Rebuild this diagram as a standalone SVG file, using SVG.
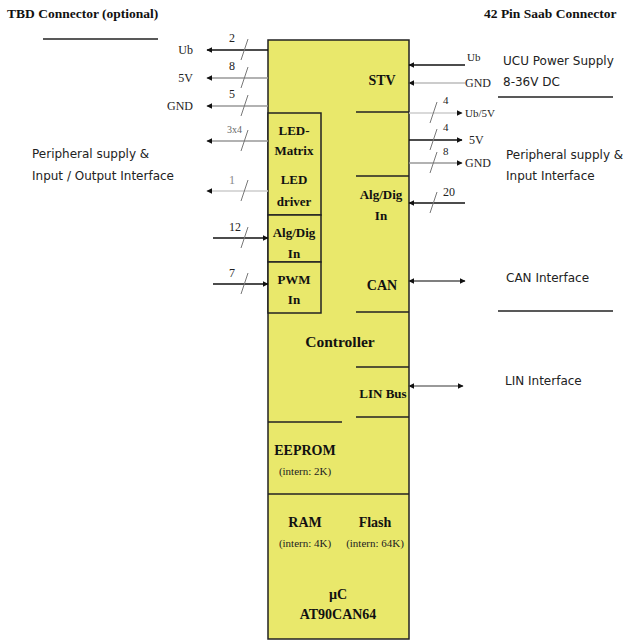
<svg xmlns="http://www.w3.org/2000/svg" width="629" height="642" viewBox="0 0 629 642">
<defs>
<marker id="ah" viewBox="0 0 10 10" refX="9" refY="5" markerWidth="6" markerHeight="6" orient="auto-start-reverse" markerUnits="userSpaceOnUse">
<path d="M0,0 L10,5 L0,10 z" fill="#111"/>
</marker>
<style>
.bx{fill:#e9e86b;stroke:#222;stroke-width:1.5}
.div{stroke:#222;stroke-width:1.5;fill:none}
.b{font-family:"Liberation Serif",serif;font-weight:bold;font-size:14px;fill:#111;text-anchor:middle}
.bs{font-family:"Liberation Serif",serif;font-weight:bold;font-size:13px;fill:#111;text-anchor:middle}
.sm{font-family:"Liberation Serif",serif;font-size:11px;fill:#222;text-anchor:middle}
.pl{font-family:"Liberation Serif",serif;font-size:12px;fill:#222}
.pr{font-family:"Liberation Serif",serif;font-size:12px;fill:#222;text-anchor:end}
.num{font-family:"Liberation Serif",serif;font-size:12px;fill:#222}
.sans{font-family:"DejaVu Sans","Liberation Sans",sans-serif;font-size:12px;fill:#222}
.hd{font-family:"Liberation Serif",serif;font-weight:bold;font-size:13.5px;fill:#111}
.sl{stroke:#777;stroke-width:1;fill:none}
.ul{stroke:#222;stroke-width:1.3}
</style>
</defs>
<rect width="629" height="642" fill="#fff"/>

<g id="headers">
<text class="hd" x="7" y="18">TBD Connector (optional)</text>
<line class="ul" x1="43" y1="39" x2="158" y2="39"/>
<text class="hd" x="484" y="18">42 Pin Saab Connector</text>
<text class="sans" x="32" y="158">Peripheral supply &amp;</text>
<text class="sans" x="32" y="180">Input / Output Interface</text>
<text class="sans" x="503" y="65">UCU Power Supply</text>
<text class="sans" x="503" y="86">8-36V DC</text>
<line class="ul" x1="498" y1="97" x2="613" y2="97"/>
<text class="sans" x="506" y="159">Peripheral supply &amp;</text>
<text class="sans" x="506" y="180">Input Interface</text>
<text class="sans" x="506" y="282">CAN Interface</text>
<line class="ul" x1="498" y1="311" x2="613" y2="311"/>
<text class="sans" x="505" y="385">LIN Interface</text>
</g>

<g id="controller">
<rect class="bx" x="268" y="40" width="141" height="599"/>
<line class="div" x1="356" y1="112" x2="409" y2="112"/>
<line class="div" x1="356" y1="176" x2="409" y2="176"/>
<line class="div" x1="356" y1="312" x2="409" y2="312"/>
<line class="div" x1="356" y1="367" x2="409" y2="367"/>
<line class="div" x1="356" y1="417" x2="409" y2="417"/>
<line class="div" x1="268" y1="422" x2="342" y2="422"/>
<line class="div" x1="268" y1="494" x2="409" y2="494"/>
<text class="b" x="382" y="85">STV</text>
<text class="bs" x="381" y="199">Alg/Dig</text>
<text class="bs" x="381" y="220">In</text>
<text class="b" x="382" y="290">CAN</text>
<text class="b" x="340" y="347" style="font-size:15.5px">Controller</text>
<text class="bs" x="383" y="398">LIN Bus</text>
<text class="b" x="305" y="455">EEPROM</text>
<text class="sm" x="305" y="475">(intern: 2K)</text>
<text class="b" x="305" y="527">RAM</text>
<text class="sm" x="305" y="547">(intern: 4K)</text>
<text class="b" x="375" y="527">Flash</text>
<text class="sm" x="375" y="547">(intern: 64K)</text>
<text class="b" x="338" y="599">µC</text>
<text class="b" x="338" y="619">AT90CAN64</text>
</g>

<g id="led">
<rect class="bx" x="268" y="113" width="53" height="102"/>
<text class="bs" x="294" y="135">LED-</text>
<text class="bs" x="294" y="155">Matrix</text>
<text class="bs" x="294" y="184">LED</text>
<text class="bs" x="294" y="206">driver</text>
</g>
<g id="algdig-left">
<rect class="bx" x="268" y="215" width="53" height="47"/>
<text class="bs" x="294" y="237">Alg/Dig</text>
<text class="bs" x="294" y="258">In</text>
</g>
<g id="pwm">
<rect class="bx" x="268" y="262" width="53" height="51"/>
<text class="bs" x="294" y="284">PWM</text>
<text class="bs" x="294" y="304">In</text>
</g>

<g id="connectors">
<line x1="268" y1="50" x2="207" y2="50" stroke="#111" stroke-width="1.5" marker-end="url(#ah)"/>
<line class="sl" x1="241" y1="60" x2="248" y2="39"/>
<text class="num" x="229" y="42">2</text>
<text class="pr" x="193" y="54">Ub</text>

<line x1="268" y1="78" x2="207" y2="78" stroke="#999" stroke-width="1.5" marker-end="url(#ah)"/>
<line class="sl" x1="241" y1="88" x2="248" y2="67"/>
<text class="num" x="229" y="70">8</text>
<text class="pr" x="193" y="82">5V</text>

<line x1="268" y1="106" x2="207" y2="106" stroke="#999" stroke-width="1.5" marker-end="url(#ah)"/>
<line class="sl" x1="241" y1="116" x2="248" y2="95"/>
<text class="num" x="229" y="98">5</text>
<text class="pr" x="193" y="110">GND</text>

<line x1="268" y1="141" x2="207" y2="141" stroke="#999" stroke-width="1.5" marker-end="url(#ah)"/>
<line class="sl" x1="241" y1="151" x2="248" y2="130"/>
<text class="num" x="227" y="133" style="font-size:10px;fill:#666">3x4</text>

<line x1="268" y1="191" x2="207" y2="191" stroke="#ccc" stroke-width="1.5" marker-end="url(#ah)"/>
<line class="sl" x1="241" y1="201" x2="248" y2="180"/>
<text class="num" x="229" y="184" style="fill:#888">1</text>

<line x1="213" y1="238" x2="268" y2="238" stroke="#111" stroke-width="1.5" marker-end="url(#ah)"/>
<line class="sl" x1="241" y1="248" x2="248" y2="227"/>
<text class="num" x="229" y="231">12</text>

<line x1="213" y1="284" x2="268" y2="284" stroke="#111" stroke-width="1.5" marker-end="url(#ah)"/>
<line class="sl" x1="241" y1="294" x2="248" y2="273"/>
<text class="num" x="229" y="277">7</text>

<line x1="465" y1="65" x2="409" y2="65" stroke="#111" stroke-width="1.5" marker-end="url(#ah)"/>
<text class="pl" x="467" y="61" style="font-size:11px">Ub</text>
<line x1="465" y1="83" x2="409" y2="83" stroke="#999" stroke-width="1" marker-end="url(#ah)"/>
<text class="pl" x="465" y="87">GND</text>

<line x1="409" y1="113" x2="462" y2="113" stroke="#ccc" stroke-width="1.5" marker-end="url(#ah)"/>
<line class="sl" x1="430" y1="123" x2="437" y2="102"/>
<text class="num" x="443" y="104" style="font-size:11px">4</text>
<text class="pl" x="465" y="117" style="font-size:11px">Ub/5V</text>

<line x1="409" y1="140" x2="462" y2="140" stroke="#111" stroke-width="1.5" marker-end="url(#ah)"/>
<line class="sl" x1="430" y1="150" x2="437" y2="129"/>
<text class="num" x="443" y="131" style="font-size:11px">4</text>
<text class="pl" x="469" y="144">5V</text>

<line x1="409" y1="163" x2="462" y2="163" stroke="#999" stroke-width="1.5" marker-end="url(#ah)"/>
<line class="sl" x1="430" y1="173" x2="437" y2="152"/>
<text class="num" x="443" y="155" style="font-size:11px">8</text>
<text class="pl" x="465" y="167">GND</text>

<line x1="465" y1="203" x2="409" y2="203" stroke="#111" stroke-width="1.5" marker-end="url(#ah)"/>
<line class="sl" x1="430" y1="213" x2="437" y2="192"/>
<text class="num" x="443" y="196">20</text>

<line x1="409" y1="281" x2="465" y2="281" stroke="#555" stroke-width="1.5" marker-start="url(#ah)" marker-end="url(#ah)"/>
<line x1="409" y1="386" x2="463" y2="386" stroke="#777" stroke-width="1.3" marker-start="url(#ah)" marker-end="url(#ah)"/>
</g>
</svg>
